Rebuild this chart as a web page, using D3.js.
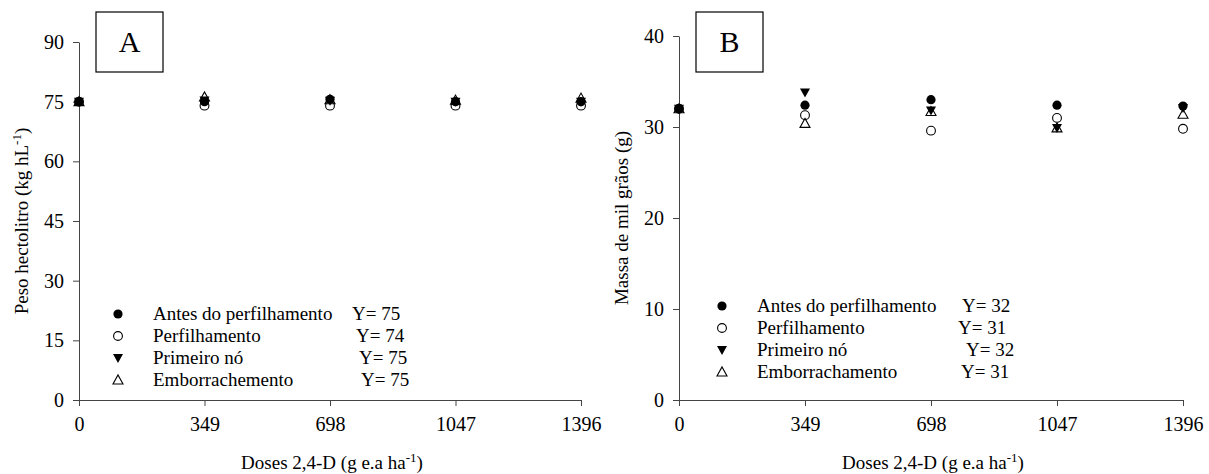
<!DOCTYPE html>
<html>
<head>
<meta charset="utf-8">
<script src="https://cdn.jsdelivr.net/npm/d3@7"></script>
<style>
  body { margin: 0; background: #fff; }
  text { font-family: "Liberation Serif", "Times New Roman", serif; fill: #000; }
  .axis path, .axis line { stroke: #444; }
</style>
</head>
<body>
<div id="chart-area"></div>
<script>

// SVG size
var width = 1209,
	height = 474;

// doses of 2,4-D on the x axis
var doses = [0, 349, 698, 1047, 1396];

var seriesNames = ["Antes do perfilhamento", "Perfilhamento", "Primeiro nó"];
var seriesNamesA = seriesNames.concat(["Emborrachemento"]);
var seriesNamesB = seriesNames.concat(["Emborrachamento"]);

// panel A - peso hectolitro
var antesA = [75, 75, 75.6, 75, 75];
var perfA = [75, 74, 74, 74, 74];
var primA = [75, 75.3, 75.2, 75, 75];
var embA = [75, 76.2, 75.5, 75.4, 75.9];
var eqA = ["Y= 75", "Y= 74", "Y= 75", "Y= 75"];
var yTicksA = [0, 15, 30, 45, 60, 75, 90];

// panel B - massa de mil graos
var antesB = [32, 32.4, 33.0, 32.4, 32.3];
var perfB = [32, 31.3, 29.6, 31.0, 29.8];
var primB = [32, 33.8, 31.8, 29.9, 32.1];
var embB = [32, 30.4, 31.7, 29.9, 31.4];
var eqB = ["Y= 32", "Y= 31", "Y= 32", "Y= 31"];
var yTicksB = [0, 10, 20, 30, 40];

var symbols = ["dot", "circle", "down", "up"];

var svg = d3.select("#chart-area")
	.append("svg")
	.attr("width", width)
	.attr("height", height);

// draw one marker
var drawMarker = function(g, type, x, y) {
	if (type == "dot") {
		g.append("circle").attr("cx", x).attr("cy", y).attr("r", 4.6)
			.attr("fill", "#000");
	} else if (type == "circle") {
		g.append("circle").attr("cx", x).attr("cy", y).attr("r", 4.4)
			.attr("fill", "none").attr("stroke", "#000").attr("stroke-width", 1.1);
	} else if (type == "down") {
		g.append("path")
			.attr("d", "M" + (x - 5) + "," + (y - 4) + "L" + (x + 5) + "," + (y - 4) + "L" + x + "," + (y + 5) + "Z")
			.attr("fill", "#000");
	} else {
		g.append("path")
			.attr("d", "M" + (x - 5) + "," + (y + 4) + "L" + (x + 5) + "," + (y + 4) + "L" + x + "," + (y - 5) + "Z")
			.attr("fill", "none").attr("stroke", "#000").attr("stroke-width", 1.1);
	}
}

var drawPanel = function(p) {
	var g = svg.append("g");

	var xScale = d3.scaleLinear().domain([0, 1396]).range(p.xRange);
	var yScale = d3.scaleLinear().domain([0, p.yMax]).range([400, p.yTop]);

	var xAxis = d3.axisBottom(xScale).tickValues(doses).tickFormat(d3.format("d"))
		.tickSize(6).tickSizeOuter(0).tickPadding(9);
	var yAxis = d3.axisLeft(yScale).tickValues(p.yTicks).tickFormat(d3.format("d"))
		.tickSize(6).tickSizeOuter(0).tickPadding(9);

	g.append("g").attr("class", "axis")
		.attr("transform", "translate(0,400)")
		.call(xAxis)
		.selectAll("text").style("font-size", "20px").attr("dy", "0.8em");

	g.append("g").attr("class", "axis")
		.attr("transform", "translate(" + p.xRange[0] + ",0)")
		.call(yAxis)
		.selectAll("text").style("font-size", "20px");

	g.selectAll(".domain").attr("stroke", "#444");

	// points
	var pts = g.append("g");
	p.series.forEach(function(vals, i) {
		vals.forEach(function(v, j) {
			drawMarker(pts, symbols[i], xScale(doses[j]), yScale(v));
		});
	});

	// letter box
	g.append("rect").attr("x", p.box[0]).attr("y", 12).attr("width", 67).attr("height", 60)
		.attr("fill", "#fff").attr("stroke", "#000").attr("stroke-width", 1.2);
	g.append("text").attr("x", p.box[0] + 33.5).attr("y", 52)
		.attr("text-anchor", "middle").style("font-size", "30px").text(p.letter);

	// legend
	p.names.forEach(function(n, i) {
		var y = p.legY + i * 22;
		drawMarker(g, symbols[i], p.legX, y);
		g.append("text").attr("x", p.legX + 35).attr("y", y + 6)
			.style("font-size", "19px").text(n);
		g.append("text").attr("x", p.eqX[i]).attr("y", y + 6)
			.style("font-size", "19px").text(p.eq[i]);
	});

	// x title
	var xt = g.append("text").attr("x", (p.xRange[0] + p.xRange[1]) / 2 + 2).attr("y", 469)
		.attr("text-anchor", "middle").style("font-size", "19px");
	xt.append("tspan").text("Doses 2,4-D (g e.a ha");
	xt.append("tspan").attr("dy", -7).style("font-size", "13px").text("-1");
	xt.append("tspan").attr("dy", 7).text(")");

	// y title
	var yt = g.append("text")
		.attr("transform", "translate(" + p.yTitle[0] + "," + p.yTitle[1] + ") rotate(-90)")
		.attr("text-anchor", "middle").style("font-size", "19px");
	yt.append("tspan").text(p.yLabel);
	if (p.yLabelSup) {
		yt.append("tspan").attr("dy", -7).style("font-size", "13px").text(p.yLabelSup);
		yt.append("tspan").attr("dy", 7).text(")");
	}
}

drawPanel({
	xRange: [79, 581], yMax: 90, yTop: 42, yTicks: yTicksA,
	series: [antesA, perfA, primA, embA],
	box: [96], letter: "A",
	names: seriesNamesA, eq: eqA, legX: 118, legY: 314, eqX: [352, 356, 359, 361],
	yTitle: [28, 221], yLabel: "Peso hectolitro (kg hL", yLabelSup: "-1"
});

drawPanel({
	xRange: [679, 1183], yMax: 40, yTop: 36, yTicks: yTicksB,
	series: [antesB, perfB, primB, embB],
	box: [696], letter: "B",
	names: seriesNamesB, eq: eqB, legX: 722, legY: 306, eqX: [962, 958, 966, 961],
	yTitle: [628, 218], yLabel: "Massa de mil grãos (g)"
});

</script>
</body>
</html>
